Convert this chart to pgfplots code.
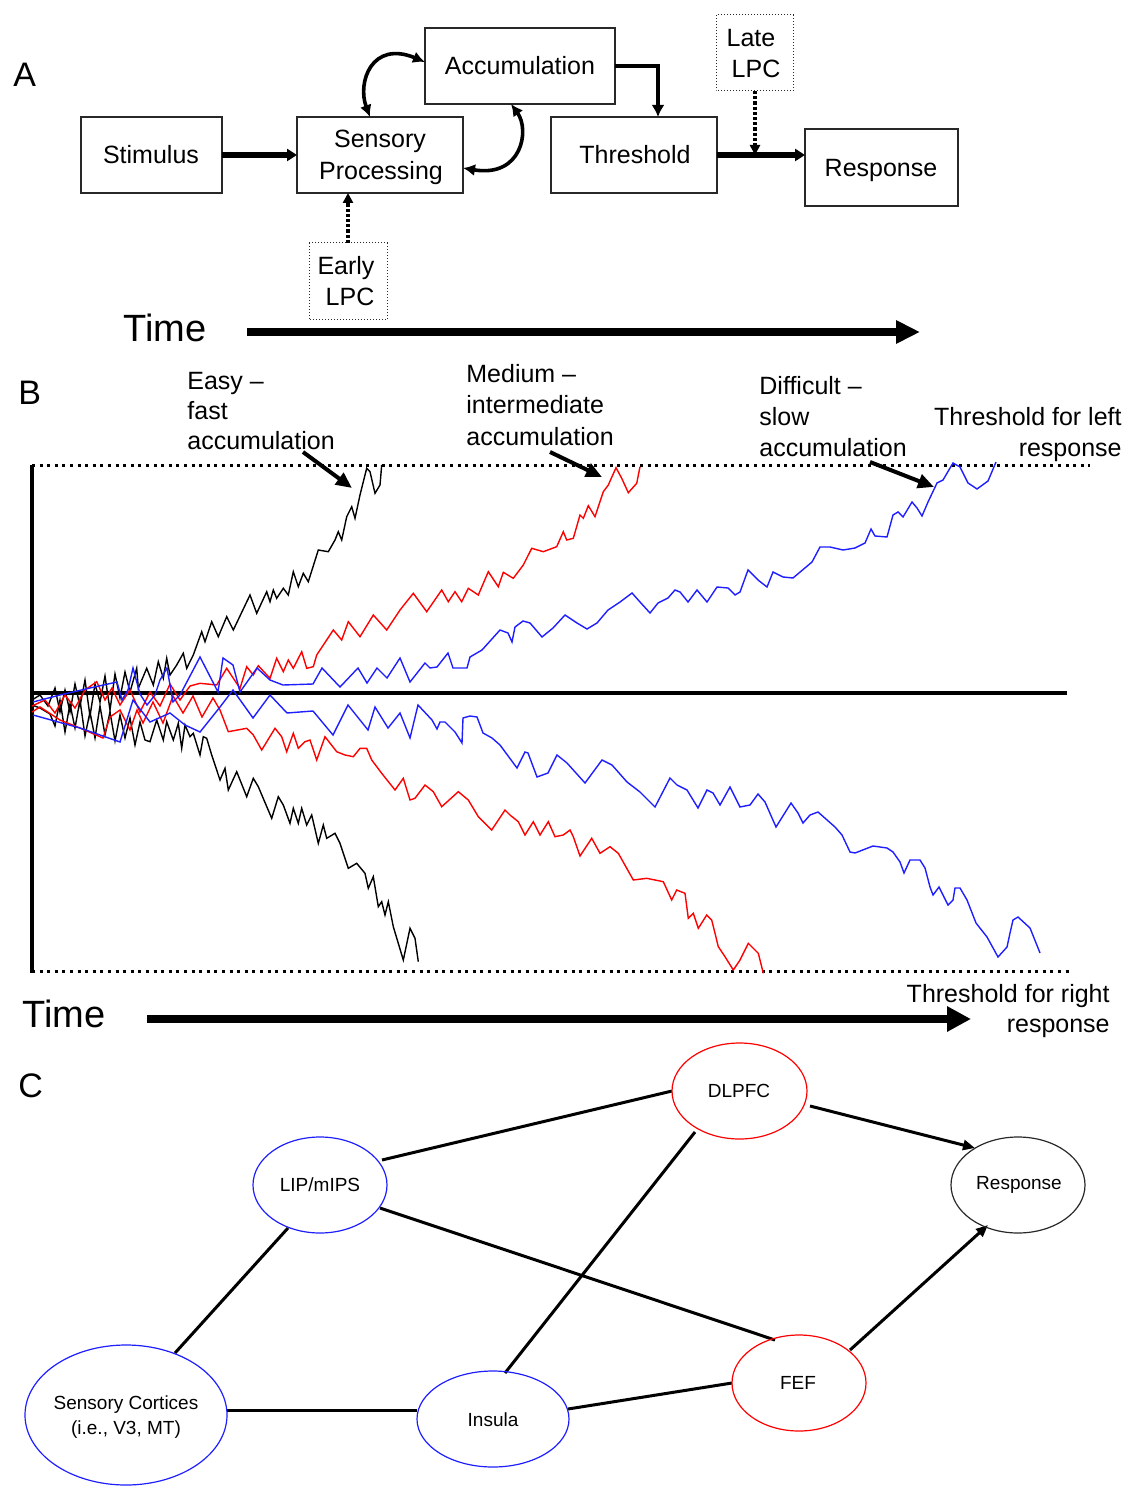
\documentclass[border=0pt]{standalone}
\usepackage{pgfplots}
\pgfplotsset{compat=1.18}
\usepackage{fontspec}
\setmainfont{Liberation Sans}
\usetikzlibrary{arrows.meta}
\definecolor{wblue}{RGB}{30,30,255}
\definecolor{wred}{RGB}{255,0,0}
\definecolor{bx}{RGB}{40,40,40}
\newcommand\fA{\fontsize{12.5pt}{15pt}\selectfont}
\newcommand\fT{\fontsize{19pt}{22pt}\selectfont}
\newcommand\fL{\fontsize{17pt}{20pt}\selectfont}
\newcommand\fC{\fontsize{9.5pt}{12pt}\selectfont}
\begin{document}
\begin{tikzpicture}
\begin{axis}[
  width=563.5pt, height=743pt, scale only axis,
  xmin=0, xmax=1127, ymin=0, ymax=1486, y dir=reverse,
  hide axis, clip=false,
]
% ---------------- Panel A ----------------
\node[anchor=base west,inner sep=0] at (13,87) {\fL A};
\draw[bx,line width=0.7pt] (81,117) rectangle (222,193);
\draw[bx,line width=0.7pt] (297,117) rectangle (463,193);
\draw[bx,line width=0.7pt] (425,28) rectangle (615,104);
\draw[bx,line width=0.7pt] (551,117) rectangle (717,193);
\draw[bx,line width=0.7pt] (805,129) rectangle (958,206);
\draw[bx,line width=0.5pt,densely dotted] (716,15) rectangle (793,91);
\draw[bx,line width=0.5pt,densely dotted] (309,243) rectangle (387,320);
\node[anchor=base,inner sep=0] at (151,164) {\fA Stimulus};
\node[anchor=base,inner sep=0] at (380,148) {\fA Sensory};
\node[anchor=base,inner sep=0] at (381,180) {\fA Processing};
\node[anchor=base,inner sep=0] at (520,75) {\fA Accumulation};
\node[anchor=base,inner sep=0] at (635,164) {\fA Threshold};
\node[anchor=base,inner sep=0] at (881,177) {\fA Response};
\node[anchor=base,inner sep=0] at (751,47) {\fA Late};
\node[anchor=base,inner sep=0] at (756,78) {\fA LPC};
\node[anchor=base,inner sep=0] at (346,275) {\fA Early};
\node[anchor=base,inner sep=0] at (350,306) {\fA LPC};
\draw[line width=2.6pt,-{Triangle[length=5pt,width=6pt]}] (222,155) -- (297,155);
\draw[line width=2.2pt,-{Latex[length=6pt,width=6.5pt]}] (615,66) -- (658,66) -- (658,117);
\draw[line width=2.6pt,-{Triangle[length=5pt,width=6pt]}] (717,155) -- (805,155);
\draw[line width=1.6pt,densely dotted,-{Triangle[length=5pt,width=5pt]}] (755,91) -- (755,155);
\draw[line width=1.6pt,densely dotted,-{Triangle[length=5pt,width=5pt]}] (348,243) -- (348,193);
\draw[line width=1.8pt,{Latex[length=6pt,width=6pt]}-{Latex[length=6pt,width=6pt]}] (370,117) .. controls (357,82) and (372,40) .. (425,62);
\draw[line width=1.8pt,{Latex[length=6pt,width=6pt]}-{Latex[length=6pt,width=6pt]}] (511,104) .. controls (530,130) and (522,178) .. (463,168);
\node[anchor=base west,inner sep=0] at (123,342) {\fT Time};
\draw[line width=4pt,-{Triangle[length=12pt,width=11pt]}] (247,332) -- (920,332);
% ---------------- Panel B ----------------
\node[anchor=base west,inner sep=0] at (18,405) {\fL B};
\node[anchor=base west,inner sep=0] at (187,390) {\fA Easy –};
\node[anchor=base west,inner sep=0] at (187,420) {\fA fast};
\node[anchor=base west,inner sep=0] at (187,450) {\fA accumulation};
\node[anchor=base west,inner sep=0] at (466,383) {\fA Medium –};
\node[anchor=base west,inner sep=0] at (466,414) {\fA intermediate};
\node[anchor=base west,inner sep=0] at (466,445) {\fA accumulation};
\node[anchor=base west,inner sep=0] at (759,394) {\fA Difficult –};
\node[anchor=base west,inner sep=0] at (759,425) {\fA slow};
\node[anchor=base west,inner sep=0] at (759,456) {\fA accumulation};
\node[anchor=base east,inner sep=0] at (1122,426) {\fA Threshold for left};
\node[anchor=base east,inner sep=0] at (1122,457) {\fA response};
\draw[line width=1.5pt,dash pattern=on 1.5pt off 2.3pt] (32,465) -- (1090,465);
\draw[line width=1.5pt,dash pattern=on 1.5pt off 2.3pt] (32,971) -- (1070,971);
\draw[line width=2.2pt] (32,465) -- (32,973);
\draw[line width=2pt] (32,693) -- (1067,693);
\addplot[black,line width=0.7pt] coordinates {(32,700)(40,695)(48,706)(55,688)(60,712)(65,690)(70,712)(75,684)(80,706)(85,680)(90,716)(95,684)(100,702)(105,676)(110,710)(115,674)(120,698)(125,672)(130,692)(136.7,668.3)(138.3,688.3)(146.7,668.3)(153.3,685)(158.3,661.7)(163.3,678.3)(166.7,658.3)(170,675)(176.7,665)(183.3,653.3)(186.7,668.3)(193.3,655)(201.7,631.7)(205,641.7)(211.7,621.7)(218.3,636.7)(226.7,616.7)(233.3,630)(250,595)(256.7,613.3)(266.7,591.7)(270,601.7)(273.3,590)(276.7,598.3)(283.3,588.3)(288.3,595)(293.3,571.7)(298.3,586.7)(303.3,573.3)(308.3,581.7)(318.3,550)(328.3,551.7)(335,540)(338.3,531.7)(341.7,540)(346.7,516.7)(351.7,506.7)(355,518.3)(360,495)(366.7,468.3)(370,471.7)(375,493.3)(380,485)(381.7,465)};
\addplot[black,line width=0.7pt] coordinates {(32,705)(40,708)(50,714)(55,726)(60,700)(65,732)(70,704)(75,728)(80,700)(85,736)(90,712)(95,738)(100,706)(105,735)(110,712)(115,741)(120,715)(125,738)(130,718)(135,745)(140,722)(145,740)(150,741.7)(156.7,720)(163.3,740)(166.7,721.7)(173.3,740)(178.3,723.3)(181.7,748.3)(185,725)(190,736.7)(193.3,733.3)(200,755)(203.3,736.7)(206.7,738.3)(211.7,755)(220,780)(225,768.3)(228.3,790)(236.7,771.7)(246.7,796.7)(253.3,778.3)(258.3,786.7)(271.7,818.3)(278.3,796.7)(283.3,805)(290,823.3)(293.3,808.3)(298.3,823.3)(301.7,808.3)(306.7,825)(311.7,815)(318.3,843.3)(323.3,825)(326.7,838.3)(335,833.3)(340,843.3)(348.3,868.3)(356.7,863.3)(365,873.3)(368.3,888.3)(373.3,876.7)(378.3,906.7)(381.7,901.7)(385,915)(388.3,901.7)(393.3,926.7)(403.3,960)(410,928.3)(415,938.3)(418.3,961.7)};
\addplot[wred,line width=0.7pt] coordinates {(32,706)(45,700)(55,713)(65,695)(75,708)(85,690)(96.7,681.7)(105,700)(112,688)(120,705)(130,690)(140,712)(150,692)(160,706)(170,684)(180,700)(190,686)(200,683.3)(216.7,685)(226.7,668.3)(240,688.3)(246.7,666.7)(253.3,675)(258.3,665.7)(270,678.3)(276.7,658.3)(283.3,671.7)(288.3,660)(293.3,668.3)(301.7,651.7)(306.7,668.3)(313.3,666.7)(316.7,655)(333.3,630)(341.7,640)(348.3,621.7)(360,636.7)(373.3,615)(386.7,630)(400,610)(413.3,593.3)(426.7,611.7)(441.7,590)(448.3,601.7)(455,591.7)(461.7,601.7)(468.3,588.3)(478.3,595)(488.3,571.7)(498.3,586.7)(503.3,572.3)(513.3,578.3)(523.3,565)(531.7,548.3)(543.3,551.7)(556.7,546.7)(563.3,531.7)(566.7,540)(573.3,538.3)(580,515)(583.3,518.3)(588.3,505.7)(595,516.7)(603.3,491.7)(608.3,485)(616,467.7)(621.7,478.3)(628.3,492.7)(636.7,483.3)(640,466.7)};
\addplot[wred,line width=0.7pt] coordinates {(32,712)(40,707)(60,720)(80,728)(103,738)(110,717)(120,710)(130,730)(137,710)(143,723)(153,702)(163,723)(173,696)(183,713)(193,696)(202,717)(213,698)(220,710)(228.3,731.7)(246.7,728.3)(253.3,735)(261.7,750)(275,728.3)(281.7,736.7)(286.7,751.7)(293.3,733.3)(298.3,748.3)(305,741.7)(310,740)(316.7,760)(325,736.7)(336.7,751.7)(345,755)(353.3,756.7)(360,748.3)(366.7,748.3)(371.7,760)(381.7,773.3)(395,790)(403.3,778.3)(410,800)(415,798.3)(425,785)(433.3,791.7)(441.7,806.7)(458.3,791.7)(468.3,800)(478.3,816.7)(491.7,830)(505,810)(510,815)(518.3,821.7)(525,835)(533.3,821.7)(540,835)(548.3,821.7)(555,836.7)(563.3,835)(570,830)(573.3,836.7)(580,856)(591.7,838.3)(600,853.3)(610,846.7)(618.3,853.3)(633.3,880)(646.7,878.3)(663.3,881.7)(671.7,900)(676.7,890)(685,893.3)(688.3,918.3)(693.3,913.3)(698.3,928.3)(706.7,915)(711.7,920)(718.3,946.7)(725,956.7)(733.3,970)(740,960)(748.3,943.3)(758.3,953.3)(763.3,973.3)};
\addplot[wblue,line width=0.7pt] coordinates {(33,702)(60,695)(90,688)(117,682)(122,700)(128,690)(133,668)(140,694)(147,705)(155,695)(160,680)(167,668)(173,702)(180,695)(200,657)(218,692)(223,658)(233,665)(240,692)(257,668)(270,680)(283,685)(313,684)(322,668)(340,687)(358,668)(367,683)(377,668)(387,678)(400,658)(410,682)(425,663)(430,668)(437,667)(448,653)(453,668)(467,668)(470,657)(482,650)(500,630)(508,633)(512,642)(515,627)(523,621)(530,623)(542,637)(553,628)(565,615)(577,623)(587,629)(597,623)(608,610)(620,602)(632,593)(640,602)(650,613)(658,603)(668,598)(675,590)(680,592)(688,602)(697,590)(707,602)(717,587)(728,588)(735,595)(740,592)(748,570)(758,580)(767,587)(773,572)(783,577)(793,578)(812,562)(820,547)(830,547)(843,550)(855,548)(865,543)(871,529)(875,536)(887,537)(893,515)(898,512)(903,517)(912,502)(917,508)(922,516)(928,502)(937,483)(943,480)(953,463)(960,467)(968,483)(977,489)(988,481)(996,462)};
\addplot[wblue,line width=0.7pt] coordinates {(33,715)(80,728)(120,742)(133,700)(150,722)(170,713)(185,725)(200,732)(220,707)(233,690)(253,718)(270,695)(287,713)(313,711)(333,735)(348,705)(368,730)(375,707)(388,728)(400,713)(410,738)(418,705)(432,720)(437,729)(440,722)(445,722)(455,732)(462,743)(463,718)(470,716)(477,717)(483,733)(492,738)(500,745)(517,768)(525,752)(528,753)(537,777)(548,773)(557,755)(567,763)(585,783)(602,760)(612,765)(627,782)(640,792)(655,807)(670,778)(677,785)(687,790)(698,808)(707,790)(713,793)(720,805)(730,787)(740,807)(750,805)(758,794)(765,802)(776,827)(791,803)(798,813)(803,823)(810,815)(818,812)(835,827)(842,835)(850,852)(855,853)(873,846)(887,848)(893,852)(900,862)(904,873)(910,860)(920,860)(925,868)(930,887)(933,895)(939,887)(943,895)(948,905)(953,900)(955,888)(960,888)(967,900)(976,923)(987,937)(998,957)(1007,947)(1010,933)(1013,920)(1018,917)(1030,928)(1040,953)};
\draw[line width=2pt,-{Triangle[length=8pt,width=7pt]}] (303,452) -- (352,488);
\draw[line width=2pt,-{Triangle[length=8pt,width=7pt]}] (550,452) -- (602,477);
\draw[line width=2pt,-{Triangle[length=8pt,width=7pt]}] (870,462) -- (934,487);
\node[anchor=base west,inner sep=0] at (22,1027) {\fT Time};
\draw[line width=4.2pt,-{Triangle[length=12pt,width=12pt]}] (147,1019) -- (971,1019);
\node[anchor=base east,inner sep=0] at (1110,1002) {\fA Threshold for right};
\node[anchor=base east,inner sep=0] at (1110,1032) {\fA response};
% ---------------- Panel C ----------------
\node[anchor=base west,inner sep=0] at (18,1097) {\fL C};
\draw[line width=1.5pt] (382,1160) -- (672,1091);
\draw[line width=1.5pt,-{Triangle[length=6pt,width=5pt]}] (810,1106) -- (975,1148);
\draw[line width=1.5pt] (695,1132) -- (505,1373);
\draw[line width=1.5pt] (380,1208) -- (775,1340);
\draw[line width=1.5pt] (288,1228) -- (175,1353);
\draw[line width=1.5pt] (227,1410) -- (417,1410);
\draw[line width=1.5pt] (568,1409) -- (732,1383);
\draw[line width=1.5pt,-{Triangle[length=6pt,width=5pt]}] (850,1350) -- (988,1225);
\draw[wred,line width=0.6pt] (739.5,1091) ellipse [x radius=33.75pt, y radius=24pt];
\draw[wblue,line width=0.6pt] (320,1185) ellipse [x radius=33.5pt, y radius=24pt];
\draw[bx,line width=0.6pt] (1018,1185) ellipse [x radius=33.5pt, y radius=24pt];
\draw[wblue,line width=0.6pt] (126,1415) ellipse [x radius=50.5pt, y radius=35pt];
\draw[wblue,line width=0.6pt] (493,1419) ellipse [x radius=38pt, y radius=24pt];
\draw[wred,line width=0.6pt] (799,1383) ellipse [x radius=33.5pt, y radius=24pt];
\node at (739,1091) {\fC DLPFC};
\node at (320,1185) {\fC LIP/mIPS};
\node at (1019,1185) {\fC Response};
\node at (126,1405) {\fC Sensory Cortices};
\node at (126,1430) {\fC (i.e., V3, MT)};
\node at (493,1420) {\fC Insula};
\node at (798,1383) {\fC FEF};
\end{axis}
\pgfresetboundingbox
\path (current axis.south west) rectangle (current axis.north east);
\end{tikzpicture}
\end{document}
